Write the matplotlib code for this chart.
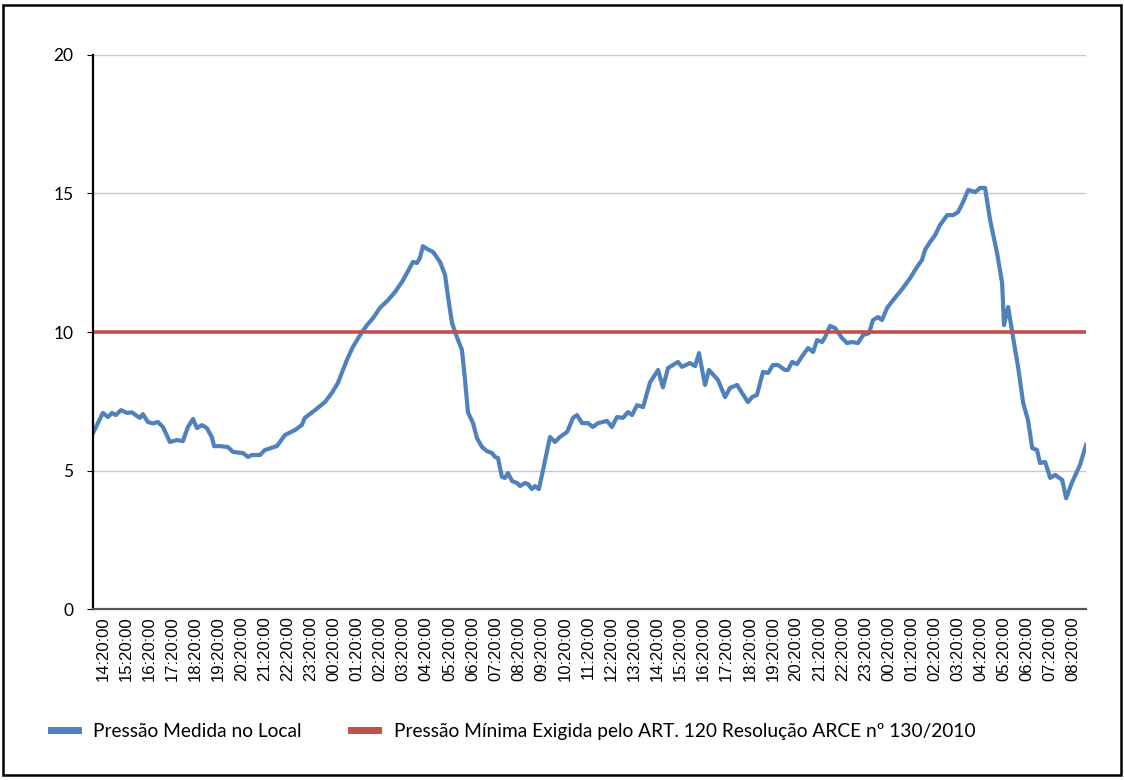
import matplotlib.pyplot as plt
from matplotlib.lines import Line2D
from matplotlib.patches import Rectangle

# hours after the first label (14:20:00)
horas = [-0.43, 0.0, 0.22, 0.39, 0.56, 0.78, 1.04, 1.26, 1.47, 1.60, 1.73, 1.95, 2.16, 2.38,
         2.60, 2.90, 3.20, 3.46, 3.68, 3.90, 4.07, 4.29, 4.50, 4.72, 4.81, 5.06, 5.41, 5.63,
         6.06, 6.28, 6.45, 6.80, 7.01, 7.53, 7.88, 8.31, 8.61, 8.74, 9.18, 9.61, 9.91, 10.17,
         10.56, 10.82, 11.13, 11.43, 11.69, 11.99, 12.34, 12.64, 12.94, 13.16, 13.42, 13.59,
         13.72, 13.85, 14.03, 14.29, 14.59, 14.81, 14.94, 15.11, 15.32, 15.54, 15.67, 15.80,
         16.02, 16.19, 16.41, 16.62, 16.84, 16.97, 17.10, 17.27, 17.40, 17.53, 17.71, 17.92,
         18.05, 18.27, 18.40, 18.57, 18.70, 18.87, 19.05, 19.35, 19.57, 19.78, 20.09, 20.35,
         20.52, 20.74, 21.00, 21.21, 21.43, 21.82, 22.03, 22.25, 22.51, 22.73, 22.90, 23.12,
         23.38, 23.68, 24.03, 24.24, 24.46, 24.89, 25.06, 25.41, 25.63, 25.80, 26.06, 26.23,
         26.62, 26.93, 27.14, 27.45, 27.66, 27.92, 28.10, 28.31, 28.57, 28.79, 29.00, 29.22,
         29.52, 29.65, 29.83, 30.04, 30.30, 30.52, 30.74, 30.91, 31.13, 31.26, 31.47, 31.69,
         31.99, 32.21, 32.42, 32.68, 32.90, 33.16, 33.33, 33.55, 33.72, 33.94, 34.20, 34.63,
         34.94, 35.24, 35.45, 35.58, 35.80, 36.02, 36.23, 36.54, 36.80, 37.01, 37.23, 37.45,
         37.75, 37.97, 38.18, 38.40, 38.70, 38.92, 39.00, 39.18, 39.39, 39.61, 39.83, 40.04,
         40.22, 40.43, 40.56, 40.78, 41.00, 41.21, 41.52, 41.69, 41.95, 42.29, 42.55]

pressao = [6.35, 7.08, 6.93, 7.08, 7.0, 7.18, 7.08, 7.1, 6.97, 6.9, 7.04, 6.75, 6.7, 6.75,
           6.57, 6.03, 6.1, 6.06, 6.57, 6.86, 6.53, 6.64, 6.53, 6.2, 5.88, 5.88, 5.85, 5.67,
           5.63, 5.49, 5.56, 5.56, 5.74, 5.88, 6.28, 6.46, 6.64, 6.9, 7.18, 7.47, 7.8, 8.16,
           8.99, 9.46, 9.89, 10.25, 10.5, 10.87, 11.15, 11.44, 11.8, 12.13, 12.53, 12.49,
           12.67, 13.1, 13.0, 12.89, 12.53, 12.06, 11.26, 10.32, 9.82, 9.35, 8.3, 7.1,
           6.71, 6.17, 5.85, 5.7, 5.63, 5.49, 5.45, 4.77, 4.73, 4.91, 4.62, 4.55,
           4.44, 4.55, 4.51, 4.33, 4.44, 4.33, 5.02, 6.21, 6.03, 6.21, 6.39, 6.9,
           7.0, 6.71, 6.71, 6.57, 6.71, 6.79, 6.57, 6.93, 6.9, 7.11, 7.0, 7.36,
           7.29, 8.18, 8.63, 8.0, 8.7, 8.92, 8.74, 8.88, 8.77, 9.24, 8.09, 8.63,
           8.27, 7.65, 7.98, 8.09, 7.8, 7.47, 7.65, 7.73, 8.56, 8.52, 8.81, 8.81,
           8.63, 8.63, 8.92, 8.84, 9.17, 9.42, 9.28, 9.71, 9.64, 9.82, 10.22, 10.14,
           9.78, 9.6, 9.64, 9.6, 9.89, 9.96, 10.43, 10.54, 10.43, 10.87, 11.15, 11.59,
           11.95, 12.35, 12.6, 12.96, 13.25, 13.5, 13.86, 14.22, 14.22, 14.33, 14.69, 15.13,
           15.05, 15.2, 15.2, 14.04, 12.85, 11.77, 10.25, 10.9, 9.82, 8.74, 7.44, 6.82,
           5.81, 5.74, 5.27, 5.31, 4.73, 4.84, 4.66, 4.0, 4.58, 5.2, 5.92]

pressao_minima = 10

rotulos = ['14:20:00', '15:20:00', '16:20:00', '17:20:00', '18:20:00', '19:20:00',
           '20:20:00', '21:20:00', '22:20:00', '23:20:00', '00:20:00', '01:20:00',
           '02:20:00', '03:20:00', '04:20:00', '05:20:00', '06:20:00', '07:20:00',
           '08:20:00', '09:20:00', '10:20:00', '11:20:00', '12:20:00', '13:20:00',
           '14:20:00', '15:20:00', '16:20:00', '17:20:00', '18:20:00', '19:20:00',
           '20:20:00', '21:20:00', '22:20:00', '23:20:00', '00:20:00', '01:20:00',
           '02:20:00', '03:20:00', '04:20:00', '05:20:00', '06:20:00', '07:20:00',
           '08:20:00']

azul = '#4F81BD'
vermelho = '#C0504D'

fig = plt.figure(figsize=(11.24, 7.8), dpi=100)
ax = fig.add_axes([0.0827, 0.2192, 0.8835, 0.7103])

ax.plot(horas, pressao, color=azul, lw=3.0, solid_joinstyle='round')
ax.axhline(pressao_minima, color=vermelho, lw=2.6)

ax.set_xlim(-0.43, 42.55)
ax.set_ylim(0, 20)
ax.set_yticks([0, 5, 10, 15, 20])
ax.set_xticks(range(len(rotulos)))
ax.set_xticklabels(rotulos, rotation=90, fontsize=12, family='Liberation Sans')
ax.tick_params(axis='x', length=0, pad=5)
ax.tick_params(axis='y', length=4, labelsize=12.5, pad=10)
for t in ax.get_yticklabels():
    t.set_family('Lato')
ax.grid(axis='y', color='#C8C8C8', lw=1)
ax.set_axisbelow(True)
for s in ['top', 'right']:
    ax.spines[s].set_visible(False)
ax.spines['left'].set_color('black')
ax.spines['left'].set_linewidth(1.6)
ax.spines['bottom'].set_color('#555555')
ax.spines['bottom'].set_linewidth(1.6)

handles = [Line2D([], [], color=azul, lw=5), Line2D([], [], color=vermelho, lw=5)]
labels = ['Pressão Medida no Local',
          'Pressão Mínima Exigida pelo ART. 120 Resolução ARCE nº 130/2010']
fig.legend(handles, labels, loc='center left', bbox_to_anchor=(0.03, 0.062), ncol=2,
           frameon=False, handlelength=1.4, handletextpad=0.8, columnspacing=2.6,
           prop={'family': 'Lato', 'size': 13.8})

fig.add_artist(Rectangle((0.003, 0.006), 0.994, 0.988, transform=fig.transFigure,
                         fill=False, edgecolor='black', lw=1.8))

fig.savefig('out.png', dpi=100)
